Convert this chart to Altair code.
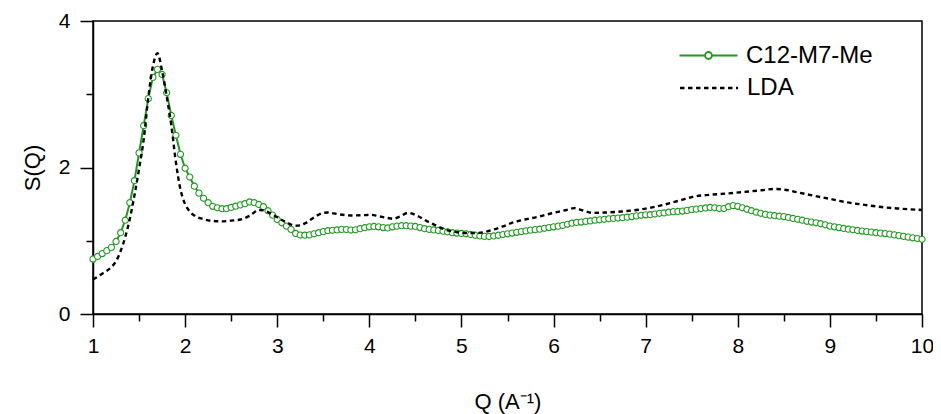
import altair as alt
import numpy as np
import pandas as pd

# ---- data ----
Q_START = 1.0
Q_STEP = 0.05
S_C12 = [
    0.75, 0.785, 0.825, 0.865, 0.91, 0.99, 1.11, 1.28, 1.52, 1.82,
    2.20, 2.57, 2.94, 3.23, 3.34, 3.27, 3.02, 2.71, 2.44, 2.18,
    1.99, 1.87, 1.745, 1.65, 1.58, 1.52, 1.47, 1.45, 1.437, 1.438,
    1.455,
    1.472, 1.49, 1.506, 1.53, 1.52, 1.495, 1.465, 1.41, 1.35, 1.29,
    1.245, 1.20, 1.155, 1.10, 1.078, 1.076, 1.08, 1.095, 1.11, 1.125,
    1.137, 1.143, 1.147, 1.155, 1.153, 1.146, 1.15, 1.165, 1.178, 1.19,
    1.195, 1.19, 1.18, 1.175, 1.19, 1.20, 1.205, 1.205, 1.20, 1.195,
    1.18, 1.165, 1.155, 1.148, 1.14, 1.13, 1.12, 1.11, 1.105, 1.10,
    1.095, 1.085, 1.075, 1.065, 1.06, 1.058, 1.065, 1.075, 1.085, 1.095,
    1.105, 1.115, 1.125, 1.135, 1.145, 1.152, 1.158, 1.17, 1.18, 1.19,
    1.20, 1.21, 1.225, 1.24, 1.25, 1.255, 1.265, 1.27, 1.28, 1.286,
    1.293, 1.30, 1.305, 1.31, 1.315, 1.322, 1.33, 1.34, 1.348, 1.354,
    1.356, 1.365, 1.375, 1.38, 1.39, 1.398, 1.40, 1.405, 1.415, 1.425,
    1.432, 1.44, 1.448, 1.455, 1.45, 1.44, 1.44, 1.465, 1.48, 1.47,
    1.45, 1.43, 1.41, 1.39, 1.375, 1.36, 1.35, 1.342, 1.335, 1.33,
    1.318, 1.305, 1.293, 1.28, 1.266, 1.255, 1.245, 1.232, 1.218, 1.20,
    1.19, 1.18, 1.168, 1.158, 1.15, 1.14, 1.132, 1.125, 1.118, 1.11,
    1.104, 1.098, 1.09, 1.08, 1.07, 1.06, 1.05, 1.04, 1.03, 1.02,
]

Q_LDA = [
    1.00, 1.10, 1.20, 1.25, 1.30, 1.35, 1.40, 1.45, 1.50, 1.55,
    1.60, 1.65, 1.70, 1.75, 1.80, 1.85, 1.90, 1.95, 2.00, 2.05,
    2.10, 2.20, 2.30, 2.40, 2.50, 2.60, 2.70, 2.80, 2.85, 2.90,
    3.00, 3.10, 3.20, 3.25, 3.32, 3.40, 3.50, 3.55, 3.65, 3.80,
    3.95, 4.02, 4.10, 4.20, 4.26, 4.33, 4.42, 4.52, 4.63, 4.72,
    4.83, 4.94, 5.05, 5.16, 5.25, 5.34, 5.45, 5.54, 5.69, 5.84,
    5.98, 6.14, 6.22, 6.32, 6.43, 6.56, 6.74, 6.92, 7.03, 7.19,
    7.37, 7.51, 7.70, 7.88, 8.06, 8.24, 8.40, 8.50, 8.65, 8.83,
    9.01, 9.19, 9.38, 9.56, 9.74, 10.00,
]
S_LDA = [
    0.47, 0.55, 0.64, 0.72, 0.86, 1.05, 1.30, 1.62, 1.98, 2.38,
    2.95, 3.38, 3.56, 3.32, 2.97, 2.58, 2.07, 1.70, 1.50, 1.40,
    1.345, 1.295, 1.27, 1.265, 1.275, 1.29, 1.34, 1.42, 1.415, 1.39,
    1.32, 1.25, 1.205, 1.21, 1.25, 1.32, 1.38, 1.385, 1.365, 1.345,
    1.35, 1.354, 1.335, 1.31, 1.30, 1.33, 1.38, 1.34, 1.265, 1.21,
    1.15, 1.12, 1.105, 1.105, 1.118, 1.15, 1.195, 1.24, 1.29, 1.33,
    1.375, 1.42, 1.445, 1.413, 1.38, 1.385, 1.40, 1.423, 1.446, 1.49,
    1.55, 1.60, 1.628, 1.645, 1.665, 1.687, 1.706, 1.698, 1.66, 1.614,
    1.569, 1.523, 1.49, 1.46, 1.44, 1.42,
]

SERIES = ["C12-M7-Me", "LDA"]
X_TICKS = [1 + 0.5 * i for i in range(19)]
Y_TICKS = [0, 1, 2, 3, 4]

GREEN = "#1f9a1f"
FONT = "Liberation Sans"

q_c12 = np.round(Q_START + Q_STEP * np.arange(len(S_C12)), 2)
green_df = pd.DataFrame({"Q": q_c12, "S": S_C12, "series_g": SERIES[0]})
lda_df = pd.DataFrame({"Q": Q_LDA, "S": S_LDA, "series_l": SERIES[1]})

x_enc = alt.X(
    "Q:Q",
    title="Q (A⁻¹)",
    scale=alt.Scale(domain=[1, 10], nice=False, zero=False),
    axis=alt.Axis(
        values=X_TICKS,
        labelExpr="datum.value % 1 === 0 ? format(datum.value, 'd') : ''",
        tickSize={"condition": {"test": "datum.value % 1 !== 0", "value": 7}, "value": 13},
        labelFlush=False,
        labelOverlap=False,
        labelPadding=8,
        titlePadding=35,
    ),
)
y_enc = alt.Y(
    "S:Q",
    title="S(Q)",
    scale=alt.Scale(domain=[0, 4], nice=False),
    axis=alt.Axis(
        values=Y_TICKS,
        labelExpr="datum.value % 2 === 0 ? format(datum.value, 'd') : ''",
        tickSize={"condition": {"test": "datum.value % 2 !== 0", "value": 7}, "value": 13},
        labelOverlap=False,
        labelPadding=10,
        titlePadding=14,
    ),
)

LEGEND_X = 603
LEGEND_Y = 22
ROW_STEP = 32
LINE_SYMBOL = "M-2.5,0L2.5,0"
LINE_CIRCLE_SYMBOL = (
    "M-2.5,0L-0.3,0M0.3,0L2.5,0"
    "M0.3,0A0.3,0.3,0,1,1,-0.3,0A0.3,0.3,0,1,1,0.3,0"
)

green_legend = alt.Legend(
    orient="none",
    legendX=LEGEND_X,
    legendY=LEGEND_Y,
    title=None,
    symbolType=LINE_CIRCLE_SYMBOL,
    symbolSize=538,
    symbolStrokeWidth=1.8,
    symbolFillColor="white",
    labelFont=FONT,
    labelFontSize=24,
    labelColor="black",
    labelOffset=25,
)
lda_legend = alt.Legend(
    orient="none",
    legendX=LEGEND_X,
    legendY=LEGEND_Y + ROW_STEP,
    title=None,
    symbolType=LINE_SYMBOL,
    symbolSize=538,
    symbolStrokeWidth=2.4,
    symbolStrokeColor="black",
    labelFont=FONT,
    labelFontSize=24,
    labelColor="black",
    labelOffset=25,
)

green_line = alt.Chart(green_df).mark_line(strokeWidth=2).encode(
    x=x_enc, y=y_enc,
    color=alt.Color(
        "series_g:N",
        scale=alt.Scale(domain=[SERIES[0]], range=[GREEN]),
        legend=green_legend,
    ),
)

green_pts = alt.Chart(green_df).mark_point(
    filled=False, fill="white", fillOpacity=1, stroke=GREEN, strokeWidth=1.1, size=38, opacity=1
).encode(x=x_enc, y=y_enc)

lda_line = alt.Chart(lda_df).mark_line(
    strokeWidth=2.4, color="black", interpolate="monotone"
).encode(
    x=x_enc, y=y_enc,
    strokeDash=alt.StrokeDash(
        "series_l:N",
        scale=alt.Scale(domain=[SERIES[1]], range=[[4.5, 3.5]]),
        legend=lda_legend,
    ),
)

chart = (
    alt.layer(green_line, green_pts, lda_line)
    .properties(
        width=829,
        height=293,
        autosize=alt.AutoSizeParams(type="none"),
        padding={"left": 85, "top": 13, "right": 11, "bottom": 104},
    )
    .configure_view(stroke="black", strokeWidth=1.5)
    .configure_axis(
        domainColor="black",
        domainWidth=1.5,
        tickColor="black",
        tickWidth=1.5,
        grid=False,
        labelFont=FONT,
        labelFontSize=21,
        labelColor="black",
        titleFont=FONT,
        titleFontSize=22,
        titleFontWeight="normal",
        titleColor="black",
    )
)

chart.save("out.html", embed_options={"renderer": "svg", "actions": False})
